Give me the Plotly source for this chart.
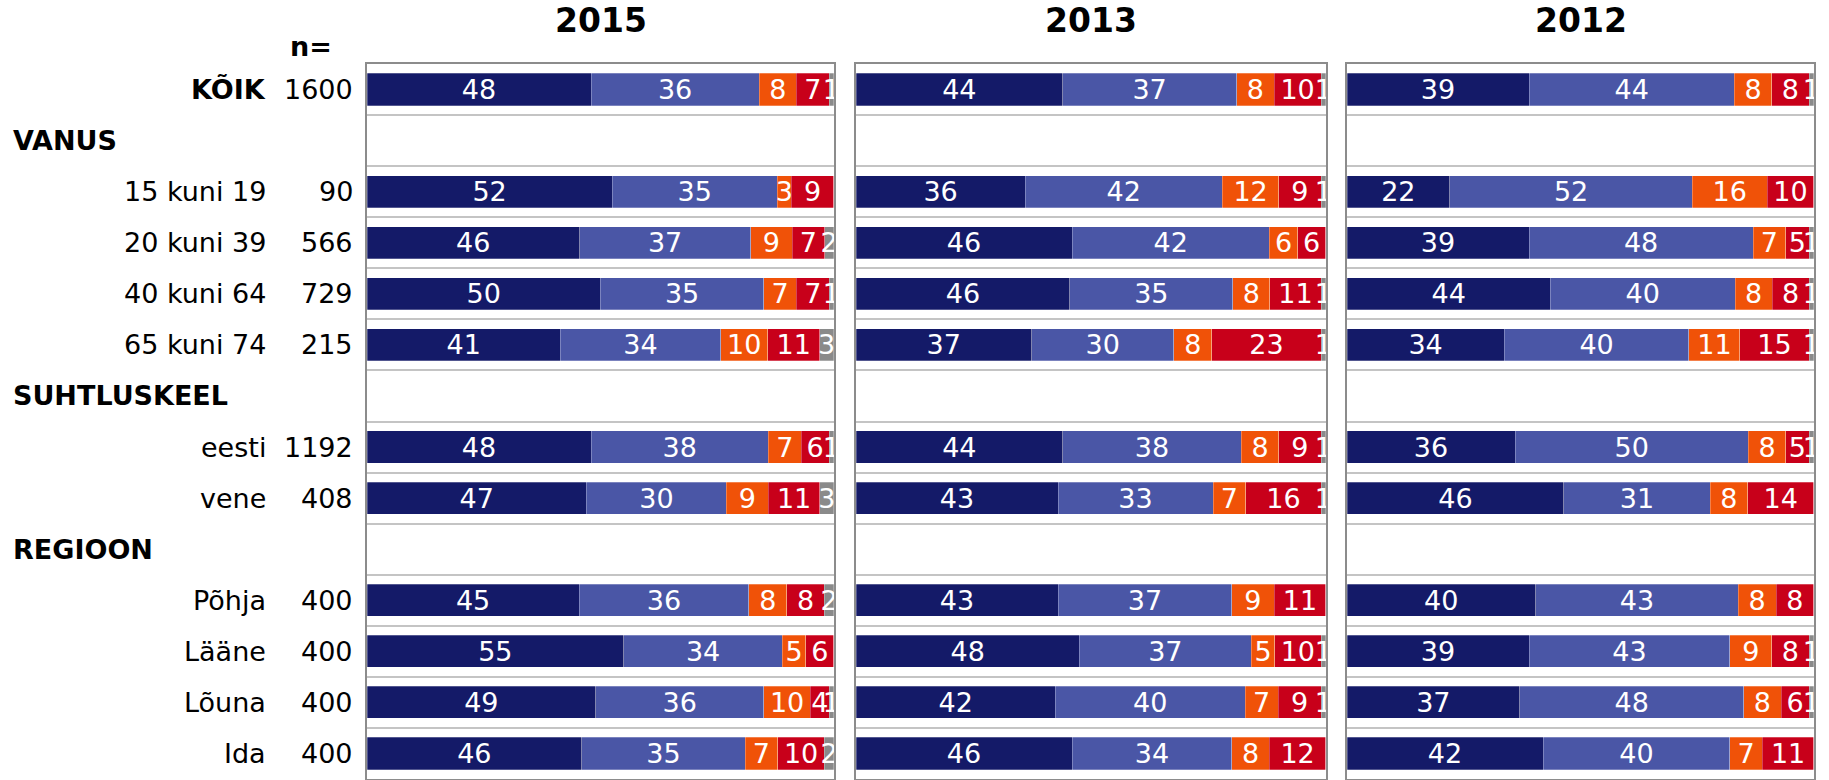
import plotly.graph_objects as go

# ---------------- data ----------------
rows = ["KÕIK", "VANUS", "15 kuni 19", "20 kuni 39", "40 kuni 64", "65 kuni 74",
        "SUHTLUSKEEL", "eesti", "vene", "REGIOON", "Põhja", "Lääne", "Lõuna", "Ida"]
header_rows = ["VANUS", "SUHTLUSKEEL", "REGIOON"]
bold_rows = ["KÕIK"]
n_values = ["1600", "", "90", "566", "729", "215", "", "1192", "408", "", "400", "400", "400", "400"]
years = ["2015", "2013", "2012"]

# 2015
s1_2015 = [48, None, 52, 46, 50, 41, None, 48, 47, None, 45, 55, 49, 46]
s2_2015 = [36, None, 35, 37, 35, 34, None, 38, 30, None, 36, 34, 36, 35]
s3_2015 = [8, None, 3, 9, 7, 10, None, 7, 9, None, 8, 5, 10, 7]
s4_2015 = [7, None, 9, 7, 7, 11, None, 6, 11, None, 8, 6, 4, 10]
s5_2015 = [1, None, 0, 2, 1, 3, None, 1, 3, None, 2, 0, 1, 2]
# 2013
s1_2013 = [44, None, 36, 46, 46, 37, None, 44, 43, None, 43, 48, 42, 46]
s2_2013 = [37, None, 42, 42, 35, 30, None, 38, 33, None, 37, 37, 40, 34]
s3_2013 = [8, None, 12, 6, 8, 8, None, 8, 7, None, 9, 5, 7, 8]
s4_2013 = [10, None, 9, 6, 11, 23, None, 9, 16, None, 11, 10, 9, 12]
s5_2013 = [1, None, 1, 0, 1, 1, None, 1, 1, None, 0, 1, 1, 0]
# 2012
s1_2012 = [39, None, 22, 39, 44, 34, None, 36, 46, None, 40, 39, 37, 42]
s2_2012 = [44, None, 52, 48, 40, 40, None, 50, 31, None, 43, 43, 48, 40]
s3_2012 = [8, None, 16, 7, 8, 11, None, 8, 8, None, 8, 9, 8, 7]
s4_2012 = [8, None, 10, 5, 8, 15, None, 5, 14, None, 8, 8, 6, 11]
s5_2012 = [1, None, 0, 1, 1, 1, None, 1, 0, None, 0, 1, 1, 0]

series_by_year = {
    "2015": [s1_2015, s2_2015, s3_2015, s4_2015, s5_2015],
    "2013": [s1_2013, s2_2013, s3_2013, s4_2013, s5_2013],
    "2012": [s1_2012, s2_2012, s3_2012, s4_2012, s5_2012],
}
series_names = ["1", "2", "3", "4", "5"]
seg_colors = ["#141a68", "#4a56a6", "#f05208", "#c8001a", "#8a8a8a"]

# ---------------- layout geometry ----------------
W, H = 1829, 780
ML, MR, MT, MB = 367, 15, 64, 1
PW = W - ML - MR
PH = H - MT - MB


def px_x(p):
    return (p - ML) / PW


def px_y(p):
    return (H - MB - p) / PH


domains = [
    [px_x(367), px_x(834)],
    [px_x(856), px_x(1326)],
    [px_x(1347), px_x(1814)],
]

FONT = "DejaVu Sans, Verdana, sans-serif"
FS = 27

fig = go.Figure()

for i, yr in enumerate(years):
    xa = "x" if i == 0 else f"x{i+1}"
    ya = "y" if i == 0 else f"y{i+1}"
    for k, vals in enumerate(series_by_year[yr]):
        txt = ["" if (v is None or v == 0) else str(v) for v in vals]
        fig.add_trace(go.Bar(
            orientation="h",
            y=rows,
            x=vals,
            name=series_names[k],
            marker=dict(color=seg_colors[k],
                        line=dict(color="rgba(255,255,255,0.45)", width=0.6)),
            text=txt,
            textposition="inside",
            insidetextanchor="middle",
            constraintext="none",
            textangle=0,
            textfont=dict(family=FONT, size=FS, color="white"),
            cliponaxis=False,
            showlegend=False,
            hoverinfo="skip",
            xaxis=xa,
            yaxis=ya,
        ))

layout = dict(
    width=W, height=H,
    margin=dict(l=ML, r=MR, t=MT, b=MB),
    paper_bgcolor="white",
    plot_bgcolor="white",
    barmode="stack",
    barnorm="percent",
    bargap=0.37,
    font=dict(family=FONT, color="black"),
    showlegend=False,
)

for i in range(3):
    xkey = "xaxis" if i == 0 else f"xaxis{i+1}"
    ykey = "yaxis" if i == 0 else f"yaxis{i+1}"
    layout[xkey] = dict(
        domain=domains[i], range=[0, 100.05], anchor="y" if i == 0 else f"y{i+1}",
        showgrid=False, zeroline=False, showticklabels=False, ticks="",
        showline=True, mirror=True, linecolor="#8c8c8c", linewidth=2,
        fixedrange=True,
    )
    layout[ykey] = dict(
        domain=[0, 1], anchor="x" if i == 0 else f"x{i+1}",
        type="category", categoryorder="array", categoryarray=rows,
        range=[len(rows) - 0.5, -0.5],
        tickson="boundaries", showgrid=True, gridcolor="#c4c4c4", gridwidth=2,
        showticklabels=False, ticks="", zeroline=False,
        showline=True, mirror=True, linecolor="#8c8c8c", linewidth=2,
        fixedrange=True,
    )

fig.update_layout(**layout)

annotations = []
# year titles
for i, yr in enumerate(years):
    annotations.append(dict(
        text=f"<b>{yr}</b>", xref="paper", yref="paper",
        x=(domains[i][0] + domains[i][1]) / 2, y=px_y(21),
        xanchor="center", yanchor="middle", showarrow=False,
        font=dict(family=FONT, size=33, color="black"),
    ))
# n= header
annotations.append(dict(
    text="<b>n=</b>", xref="paper", yref="paper",
    x=px_x(311), y=px_y(47), xanchor="center", yanchor="middle",
    showarrow=False, font=dict(family=FONT, size=FS, color="black"),
))
# row labels and n values
for r, nv in zip(rows, n_values):
    if r in header_rows:
        annotations.append(dict(
            text=f"<b>{r}</b>", xref="paper", yref="y", x=px_x(11), y=r,
            xanchor="left", yanchor="middle", showarrow=False,
            font=dict(family=FONT, size=FS, color="black"),
        ))
        continue
    label = f"<b>{r}</b>" if r in bold_rows else r
    annotations.append(dict(
        text=label, xref="paper", yref="y", x=px_x(268), y=r,
        xanchor="right", yanchor="middle", showarrow=False,
        font=dict(family=FONT, size=FS, color="black"),
    ))
    annotations.append(dict(
        text=nv, xref="paper", yref="y", x=px_x(355), y=r,
        xanchor="right", yanchor="middle", showarrow=False,
        font=dict(family=FONT, size=FS, color="black"),
    ))

fig.update_layout(annotations=annotations)

fig.write_html(
    "out.html",
    config={"displayModeBar": False},
    post_script="document.body.style.margin='0';document.body.style.overflow='hidden';",
)
